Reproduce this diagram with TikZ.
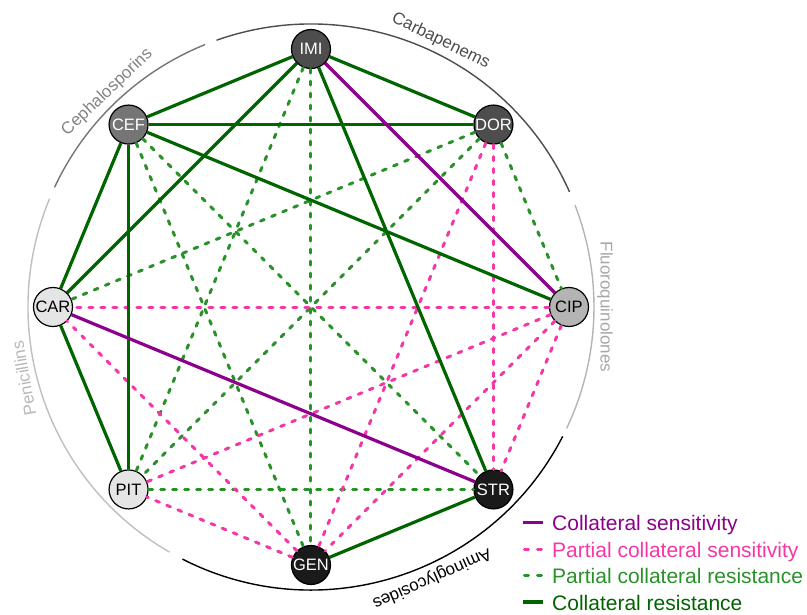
\documentclass[tikz,border=0pt]{standalone}
\usepackage{fontspec}
\setmainfont{Liberation Sans}
\usepackage{xcolor}
\usepackage{tikz}
\usetikzlibrary{
  positioning,
  calc}

\definecolor{csens}{RGB}{140,0,140}
\definecolor{pcsens}{RGB}{245,55,165}
\definecolor{pcres}{RGB}{40,145,40}
\definecolor{cres}{RGB}{0,100,0}
\definecolor{carbagray}{RGB}{77,77,77}
\definecolor{cephgray}{RGB}{117,117,117}
\definecolor{fluorogray}{RGB}{180,180,180}
\definecolor{penigray}{RGB}{229,229,229}
\definecolor{aminogray}{RGB}{26,26,26}

\tikzset{every picture/.style={font issue=\fontsize{16.5}{18}},
         font issue/.style={execute at begin picture={#1\selectfont}},
         drug/.style={circle, draw=black, line width=1.2pt, minimum size=39pt, inner sep=0pt},
         cr/.style={draw=cres, line width=3.2pt},
         cs/.style={draw=csens, line width=3.2pt},
         pcr/.style={draw=pcres, line width=3pt, line cap=round, dash pattern=on 4pt off 8pt},
         pcs/.style={draw=pcsens, line width=3pt, line cap=round, dash pattern=on 4pt off 8pt},
         classarc/.style={line width=1.4pt},
         classlabel/.style={inner sep=0pt, font=\fontsize{17}{19}\selectfont},
         legtext/.style={inner sep=0pt, anchor=base west, font=\fontsize{21}{24}\selectfont}
        }

\begin{document}
\begin{tikzpicture}[x=1pt,y=1pt]
    \useasboundingbox (-311,-307) rectangle (496,307);

    \node[drug, fill=carbagray, text=white] at (90:258) (IMI){IMI};
    \node[drug, fill=carbagray, text=white] at (45:258) (DOR){DOR};
    \node[drug, fill=fluorogray] at (0:258) (CIP){CIP};
    \node[drug, fill=aminogray, text=white] at (-45:258) (STR){STR};
    \node[drug, fill=aminogray, text=white] at (-90:258) (GEN){GEN};
    \node[drug, fill=penigray] at (-135:258) (PIT){PIT};
    \node[drug, fill=penigray] at (180:258) (CAR){CAR};
    \node[drug, fill=cephgray, text=white] at (135:258) (CEF){CEF};

    \draw[classarc, draw=carbagray] (24:283) arc[start angle=24, end angle=109.5, radius=283];
    \draw[classarc, draw=cephgray] (112:283) arc[start angle=112, end angle=155, radius=283];
    \draw[classarc, draw=black!25] (157.5:283) arc[start angle=157.5, end angle=240, radius=283];
    \draw[classarc, draw=black] (243:283) arc[start angle=243, end angle=332.8, radius=283];
    \draw[classarc, draw=fluorogray] (-25.4:283) arc[start angle=-25.4, end angle=21.1, radius=283];

    \node[classlabel, text=carbagray, rotate=-26] at (64:296) (carba){Carbapenems};
    \node[classlabel, text=cephgray!90, rotate=43.5] at (133.5:296) (ceph){Cephalosporins};
    \node[classlabel, text=black!28, rotate=100] at (194:296) (peni){Penicillins};
    \node[classlabel, text=black, rotate=-156] at (-66:297) (amino){Aminoglycosides};
    \node[classlabel, text=black!35, rotate=-90] at (0:294) (fluoro){Fluoroquinolones};

    \draw[pcr] (IMI) -- (GEN);
    \draw[pcr] (IMI) -- (PIT);
    \draw[pcr] (CEF) -- (GEN);
    \draw[pcr] (CEF) -- (STR);
    \draw[pcr] (DOR) -- (CAR);
    \draw[pcr] (DOR) -- (PIT);
    \draw[pcr] (DOR) -- (CIP);
    \draw[pcr] (PIT) -- (STR);

    \draw[pcs] (DOR) -- (GEN);
    \draw[pcs] (DOR) -- (STR);
    \draw[pcs] (CIP) -- (CAR);
    \draw[pcs] (CIP) -- (PIT);
    \draw[pcs] (CIP) -- (GEN);
    \draw[pcs] (CIP) -- (STR);
    \draw[pcs] (GEN) -- (CAR);
    \draw[pcs] (GEN) -- (PIT);

    \draw[cr] (IMI) -- (CEF);
    \draw[cr] (IMI) -- (DOR);
    \draw[cr] (IMI) -- (CAR);
    \draw[cr] (IMI) -- (STR);
    \draw[cr] (CEF) -- (DOR);
    \draw[cr] (CEF) -- (CIP);
    \draw[cr] (CEF) -- (CAR);
    \draw[cr] (CEF) -- (PIT);
    \draw[cr] (CAR) -- (PIT);
    \draw[cr] (GEN) -- (STR);

    \draw[cs] (IMI) -- (CIP);
    \draw[cs] (CAR) -- (STR);

    \node[legtext, text=csens] at (241,-223.5) (lcs){Collateral sensitivity};
    \node[legtext, text=pcsens, below = 26.5pt of lcs.base west, anchor=base west] (lpcs){Partial collateral sensitivity};
    \node[legtext, text=pcres, below = 26.5pt of lpcs.base west, anchor=base west] (lpcr){Partial collateral resistance};
    \node[legtext, text=cres, below = 26.5pt of lpcr.base west, anchor=base west] (lcr){Collateral resistance};

    \coordinate[above left = 8pt and 9pt of lcs.base west] (lcs_b);
    \coordinate[above left = 8pt and 29pt of lcs.base west] (lcs_a);
    \coordinate[above left = 8pt and 10.5pt of lpcs.base west] (lpcs_b);
    \coordinate[above left = 8pt and 27.5pt of lpcs.base west] (lpcs_a);
    \coordinate[above left = 8pt and 10.5pt of lpcr.base west] (lpcr_b);
    \coordinate[above left = 8pt and 27.5pt of lpcr.base west] (lpcr_a);
    \coordinate[above left = 8pt and 9pt of lcr.base west] (lcr_b);
    \coordinate[above left = 8pt and 29pt of lcr.base west] (lcr_a);

    \draw[cs] (lcs_a) -- (lcs_b);
    \draw[pcs, dash pattern=on 4pt off 9pt] (lpcs_a) -- (lpcs_b);
    \draw[pcr, dash pattern=on 4pt off 9pt] (lpcr_a) -- (lpcr_b);
    \draw[cr] (lcr_a) -- (lcr_b);

    \end{tikzpicture}
\end{document}
